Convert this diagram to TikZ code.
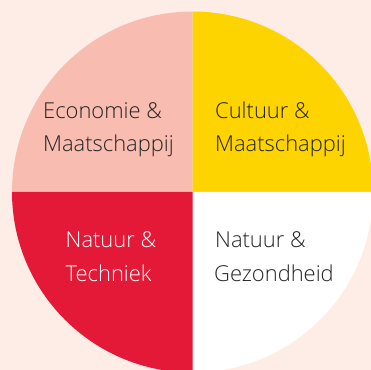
\documentclass[tikz,border=0pt]{standalone}
\usepackage{fontspec}
\setmainfont{Open Sans Light}
\definecolor{bgpeach}{HTML}{FDEDE6}
\definecolor{salmon}{HTML}{F8BCB0}
\definecolor{sunyellow}{HTML}{FDD300}
\definecolor{signalred}{HTML}{E41937}
\definecolor{darktext}{HTML}{222222}
\begin{document}
\begin{tikzpicture}[x=1bp,y=1bp,
  lbl/.style={anchor=base west,inner sep=0pt,font=\fontsize{22}{30}\selectfont,text=darktext},
  lblw/.style={lbl,text=white}]
\useasboundingbox (0,0) rectangle (371,370);
\fill[bgpeach] (0,0) rectangle (371,370);
\begin{scope}
\clip (0,0) rectangle (371,370);
\coordinate (c) at (192.5,178);
\def\R{180.5}
\fill[salmon] (c) -- ++(-\R,0) arc[start angle=180,end angle=90,radius=\R] -- cycle;
\fill[sunyellow] (c) -- ++(0,\R) arc[start angle=90,end angle=0,radius=\R] -- cycle;
\fill[white] (c) -- ++(\R,0) arc[start angle=0,end angle=-90,radius=\R] -- cycle;
\fill[signalred] (c) -- ++(0,-\R) arc[start angle=-90,end angle=-180,radius=\R] -- cycle;
\end{scope}
\node[lbl] (em1) at (43,251.3) {Economie \&};
\node[lbl] (em2) at (43,218.3) {Maatschappij};
\node[lbl] (cm1) at (215,251.3) {Cultuur \&};
\node[lbl] (cm2) at (215,218.3) {Maatschappij};
\node[lblw] (nt1) at (65.5,122.5) {Natuur \&};
\node[lblw] (nt2) at (65.5,88.5) {Techniek};
\node[lbl] (ng1) at (215,122.5) {Natuur \&};
\node[lbl] (ng2) at (214,88.5) {Gezondheid};
\end{tikzpicture}
\end{document}
